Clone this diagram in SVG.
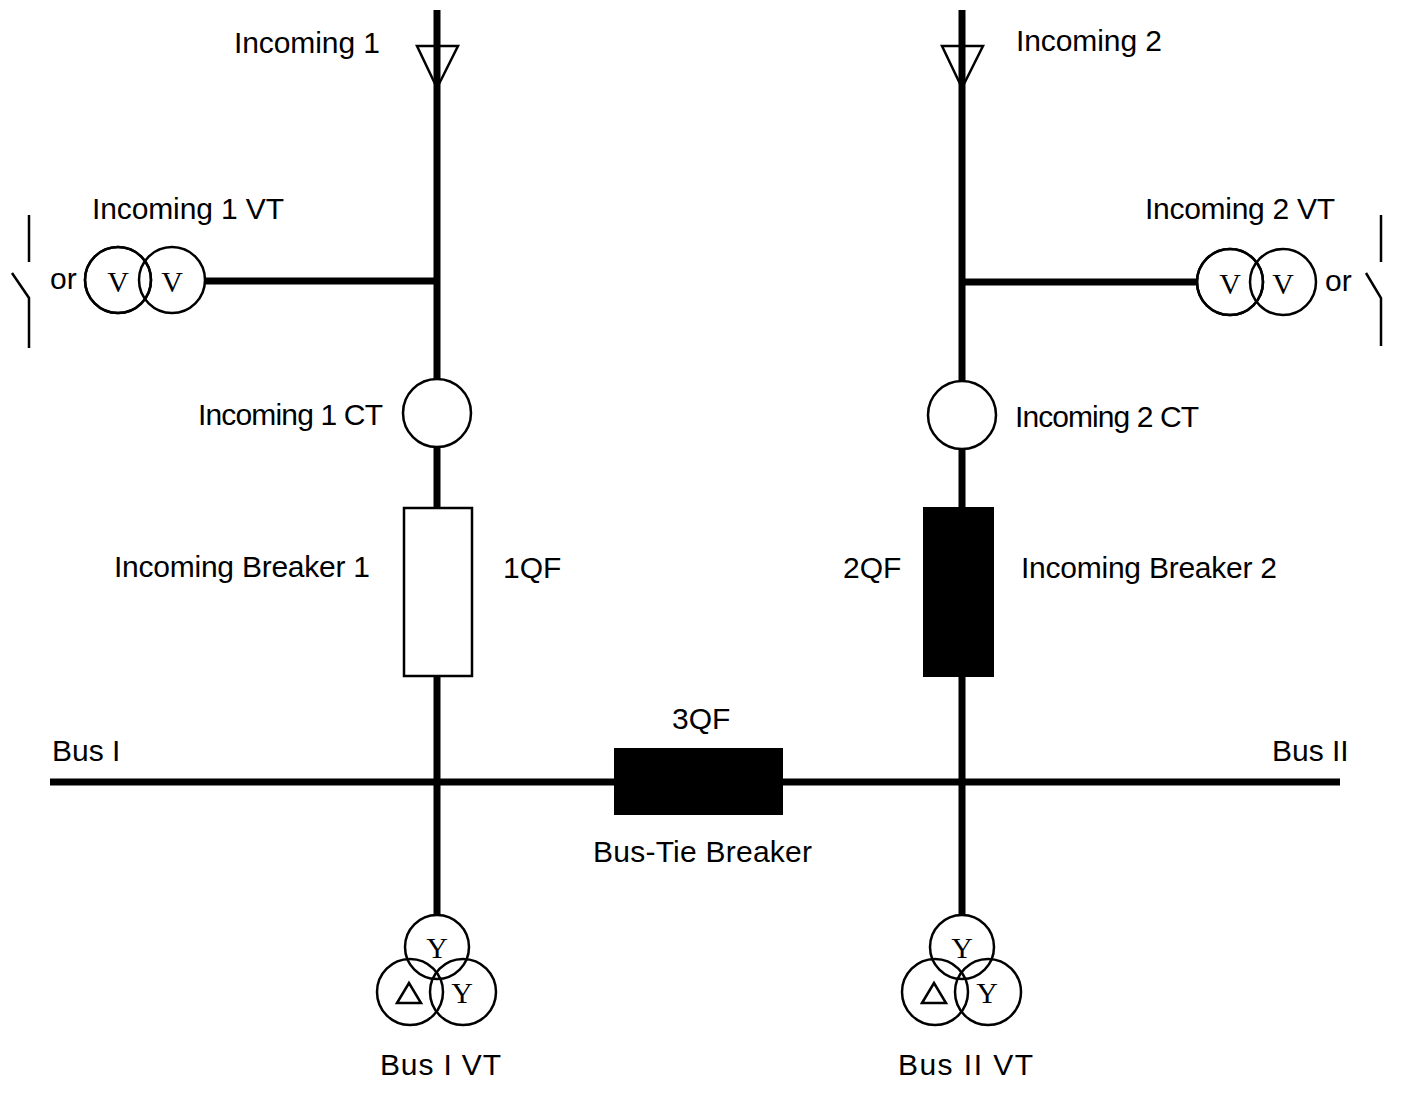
<svg xmlns="http://www.w3.org/2000/svg" width="1405" height="1120" viewBox="0 0 1405 1120">
<style>
.w{stroke:#000;stroke-width:7;fill:none}
.t{stroke:#000;stroke-width:2.5;fill:none}
.c{stroke:#000;stroke-width:2.5;fill:#fff}
text{font-family:"Liberation Sans",Arial,sans-serif;font-size:30px;fill:#000}
.s{font-family:"Liberation Serif","Times New Roman",serif;font-size:30px}
</style>
<rect width="1405" height="1120" fill="#fff"/>
<g id="connectors">
<line class="w" x1="437" y1="10" x2="437" y2="915"/>
<line class="w" x1="962" y1="10" x2="962" y2="915"/>
<line class="w" x1="50" y1="782" x2="1340" y2="782"/>
<line class="w" x1="205" y1="281" x2="437" y2="281"/>
<line class="w" x1="962" y1="282" x2="1197" y2="282"/>
</g>
<g id="incoming1">
<polygon class="t" points="417,46 458,46 437,88"/>
<text x="234" y="53" textLength="146">Incoming 1</text>
</g>
<g id="incoming2">
<polygon class="t" points="942,46 983,46 962,88"/>
<text x="1016" y="51" textLength="146">Incoming 2</text>
</g>
<g id="vt1">
<circle class="c" cx="118" cy="280" r="33"/>
<circle class="t" cx="172" cy="280" r="33"/>
<circle class="t" cx="118" cy="280" r="33"/>
<text class="s" x="118" y="292" text-anchor="middle">V</text>
<text class="s" x="172" y="292" text-anchor="middle">V</text>
<text x="92" y="219" textLength="192">Incoming 1 VT</text>
<text x="50" y="289">or</text>
<path class="t" d="M29,215V262M12,273L29,298V348"/>
</g>
<g id="vt2">
<circle class="c" cx="1230" cy="282" r="33"/>
<circle class="t" cx="1283" cy="282" r="33"/>
<circle class="t" cx="1230" cy="282" r="33"/>
<text class="s" x="1230" y="294" text-anchor="middle">V</text>
<text class="s" x="1283" y="294" text-anchor="middle">V</text>
<text x="1145" y="219" textLength="190">Incoming 2 VT</text>
<text x="1325" y="291">or</text>
<path class="t" d="M1381,215V262M1366,273L1381,298V346"/>
</g>
<g id="ct1">
<circle class="c" cx="437" cy="413" r="34"/>
<text x="198" y="425" textLength="185">Incoming 1 CT</text>
</g>
<g id="ct2">
<circle class="c" cx="962" cy="415" r="34"/>
<text x="1015" y="427" textLength="184">Incoming 2 CT</text>
</g>
<g id="qf1">
<rect x="404" y="508" width="68" height="168" fill="#fff" stroke="#000" stroke-width="2.5"/>
<text x="114" y="577" textLength="256">Incoming Breaker 1</text>
<text x="503" y="578">1QF</text>
</g>
<g id="qf2">
<rect x="924" y="508" width="69" height="168" fill="#000" stroke="#000" stroke-width="2"/>
<text x="843" y="578">2QF</text>
<text x="1021" y="578" textLength="256">Incoming Breaker 2</text>
</g>
<g id="qf3">
<rect x="614" y="748" width="169" height="67" fill="#000"/>
<text x="672" y="729">3QF</text>
<text x="593" y="862" textLength="219">Bus-Tie Breaker</text>
</g>
<g id="busI"><text x="52" y="761">Bus I</text></g>
<g id="busII"><text x="1272" y="761">Bus II</text></g>
<g id="busvt1">
<circle class="t" cx="437" cy="947" r="32"/>
<circle class="t" cx="410" cy="992" r="33"/>
<circle class="t" cx="463" cy="992" r="33"/>
<text class="s" x="437" y="958" text-anchor="middle">Y</text>
<polygon class="t" points="397,1003 409,983 421,1003"/>
<text class="s" x="462" y="1003" text-anchor="middle">Y</text>
<text x="380" y="1075" textLength="121">Bus I VT</text>
</g>
<g id="busvt2">
<circle class="t" cx="962" cy="947" r="32"/>
<circle class="t" cx="935" cy="992" r="33"/>
<circle class="t" cx="988" cy="992" r="33"/>
<text class="s" x="962" y="958" text-anchor="middle">Y</text>
<polygon class="t" points="922,1003 934,983 946,1003"/>
<text class="s" x="987" y="1003" text-anchor="middle">Y</text>
<text x="898" y="1075" textLength="135">Bus II VT</text>
</g>
</svg>
